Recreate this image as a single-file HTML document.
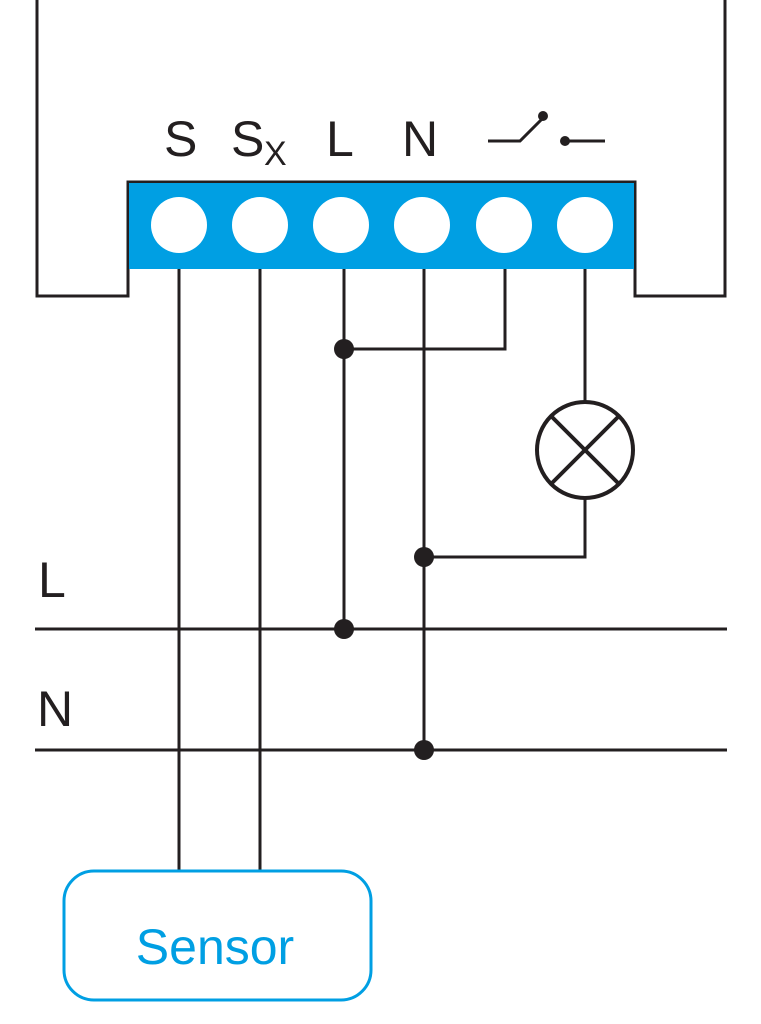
<!DOCTYPE html>
<html><head><style>body{margin:0;background:#fff}svg{display:block}</style></head><body>
<svg width="761" height="1024" viewBox="0 0 761 1024" xmlns="http://www.w3.org/2000/svg">
<g fill="none" stroke="#231f20" stroke-width="3">
<polyline points="37,0 37,296 128,296 128,182 635,182 635,296 725,296 725,0"/>
</g>
<rect x="129" y="183" width="505" height="86" fill="#009fe3"/>
<g fill="#fff">
<circle cx="179" cy="225" r="28"/><circle cx="260" cy="225" r="28"/><circle cx="341" cy="225" r="28"/>
<circle cx="422" cy="225" r="28"/><circle cx="504" cy="225" r="28"/><circle cx="585" cy="225" r="28"/>
</g>
<g fill="none" stroke="#231f20" stroke-width="3">
<line x1="179" y1="269" x2="179" y2="870"/>
<line x1="260" y1="269" x2="260" y2="870"/>
<polyline points="344,269 344,629"/>
<polyline points="424,269 424,750"/>
<polyline points="505,269 505,349 344,349"/>
<polyline points="585,269 585,402"/>
<polyline points="585,498 585,557 424,557"/>
<circle cx="585" cy="450" r="48" stroke-width="4"/>
<line x1="551" y1="416" x2="619" y2="484" stroke-width="4"/>
<line x1="619" y1="416" x2="551" y2="484" stroke-width="4"/>
<line x1="35" y1="629" x2="727" y2="629"/>
<line x1="35" y1="750" x2="727" y2="750"/>
<polyline points="488,141 520,141 543,118"/>
<line x1="566" y1="141" x2="605" y2="141"/>
</g>
<g fill="#231f20">
<circle cx="344" cy="349" r="10"/><circle cx="424" cy="557" r="10"/>
<circle cx="344" cy="629" r="10"/><circle cx="424" cy="750" r="10"/>
<circle cx="543" cy="116" r="5"/><circle cx="565" cy="141" r="5"/>
</g>
<g font-family="Liberation Sans, sans-serif" fill="#231f20" font-size="50">
<text x="164" y="156">S</text>
<text x="231" y="156">S</text>
<text x="264" y="165" font-size="34">X</text>
<text x="326" y="156">L</text>
<text x="402" y="156">N</text>
<text x="38" y="597">L</text>
<text x="37" y="726">N</text>
</g>
<rect x="64" y="871" width="307" height="129" rx="30" fill="none" stroke="#009fe3" stroke-width="3"/>
<text x="215" y="964" text-anchor="middle" font-family="Liberation Sans, sans-serif" font-size="50" fill="#009fe3">Sensor</text>
</svg>
</body></html>
